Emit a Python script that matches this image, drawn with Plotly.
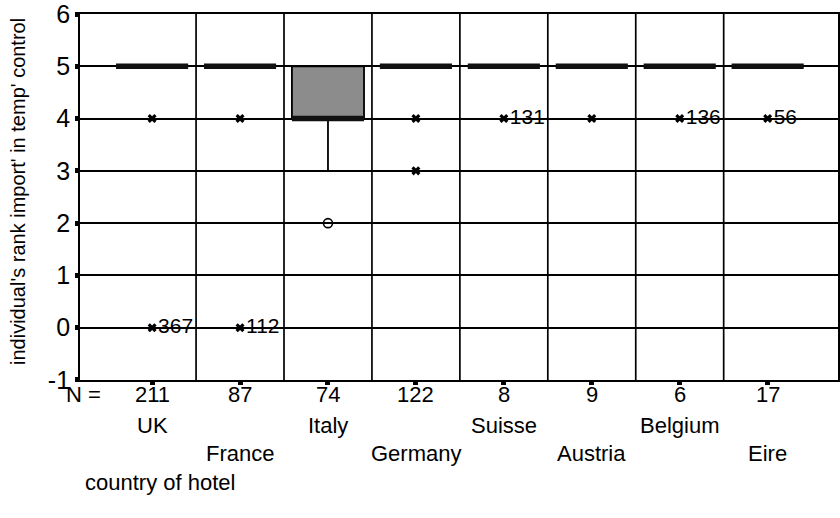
import plotly.graph_objects as go

countries = ["UK", "France", "Italy", "Germany", "Suisse", "Austria", "Belgium", "Eire"]
n_counts = [211, 87, 74, 122, 8, 9, 6, 17]
q1 = [5, 5, 4, 5, 5, 5, 5, 5]
median = [5, 5, 4, 5, 5, 5, 5, 5]
q3 = [5, 5, 5, 5, 5, 5, 5, 5]
lower_fence = [5, 5, 3, 5, 5, 5, 5, 5]
upper_fence = [5, 5, 5, 5, 5, 5, 5, 5]

outlier_country = ["Italy"]
outlier_value = [2]

extreme_country = ["UK", "UK", "France", "France", "Germany", "Germany",
                   "Suisse", "Austria", "Belgium", "Eire"]
extreme_value = [4, 0, 4, 0, 4, 3, 4, 4, 4, 4]
extreme_label = ["", "367", "", "112", "", "", "131", "", "136", "56"]

y_ticks = [-1, 0, 1, 2, 3, 4, 5, 6]
y_tick_labels = ["-1", "0", "1", "2", "3", "4", "5", "6"]

FONT = "Liberation Sans, Arial, sans-serif"
BOX_W = 0.82
idx = list(range(len(countries)))
pos = {c: i for i, c in enumerate(countries)}

fig = go.Figure()

# vertical dividers between categories
div_x, div_y = [], []
for i in idx[:-1]:
    div_x += [i + 0.5, i + 0.5, None]
    div_y += [y_ticks[0], y_ticks[-1], None]
fig.add_trace(go.Scatter(x=div_x, y=div_y, mode="lines",
                         line=dict(color="black", width=1.7),
                         hoverinfo="skip", showlegend=False))

fig.add_trace(go.Box(
    x=idx, q1=q1, median=median, q3=q3,
    lowerfence=lower_fence, upperfence=upper_fence,
    width=BOX_W, whiskerwidth=0.0,
    fillcolor="#8c8c8c", line=dict(color="black", width=1.8),
    boxpoints=False, showlegend=False))

# thick median bars
med_x, med_y = [], []
for i, m in zip(idx, median):
    med_x += [i - BOX_W / 2, i + BOX_W / 2, None]
    med_y += [m, m, None]
fig.add_trace(go.Scatter(x=med_x, y=med_y, mode="lines",
                         line=dict(color="#111111", width=5.5),
                         hoverinfo="skip", showlegend=False))

fig.add_trace(go.Scatter(
    x=[pos[c] for c in outlier_country], y=outlier_value, mode="markers",
    marker=dict(symbol="circle-open", size=9, color="black", line=dict(width=1.6)),
    showlegend=False))

fig.add_trace(go.Scatter(
    x=[pos[c] for c in extreme_country], y=extreme_value, mode="markers+text",
    text=extreme_label, textposition="middle right",
    textfont=dict(family=FONT, size=21, color="black"),
    marker=dict(symbol="x", size=8, color="black"),
    showlegend=False, cliponaxis=False))

annotations = []
annotations.append(dict(xref="paper", yref="paper", x=0, y=0, xshift=3, yshift=-14,
                        text="N =", showarrow=False, xanchor="center", yanchor="middle",
                        font=dict(family=FONT, size=22, color="black")))
for i, (c, n) in enumerate(zip(countries, n_counts)):
    annotations.append(dict(xref="x", yref="paper", x=i, y=0, yshift=-14,
                            text=str(n), showarrow=False, yanchor="middle",
                            font=dict(family=FONT, size=22, color="black")))
    annotations.append(dict(xref="x", yref="paper", x=i, y=0,
                            yshift=-45 if i % 2 == 0 else -73,
                            text=c, showarrow=False, yanchor="middle",
                            font=dict(family=FONT, size=22, color="black")))
annotations.append(dict(xref="paper", yref="paper", x=0, y=0, xshift=3, yshift=-102,
                        text="country of hotel", showarrow=False,
                        xanchor="left", yanchor="middle",
                        font=dict(family=FONT, size=22, color="black")))
annotations.append(dict(xref="paper", yref="paper", x=0, y=0.5, xshift=-62, yshift=5,
                        text="individual's rank import' in temp' control", textangle=-90,
                        showarrow=False, xanchor="center", yanchor="middle",
                        font=dict(family=FONT, size=20, color="black")))

fig.update_layout(
    width=840, height=518,
    margin=dict(l=80, r=2, t=14, b=138, autoexpand=False),
    paper_bgcolor="white", plot_bgcolor="white",
    font=dict(family=FONT, color="black"),
    annotations=annotations,
    xaxis=dict(range=[-0.82, 7.8], tickvals=idx, ticktext=[""] * len(idx),
               ticks="outside", ticklen=3, tickwidth=5, tickcolor="black",
               showgrid=False, zeroline=False, automargin=False,
               showline=True, linecolor="black", linewidth=1.8, mirror=True),
    yaxis=dict(range=[y_ticks[0] - 0.0005, y_ticks[-1] + 0.0005],
               tickvals=y_ticks, ticktext=y_tick_labels,
               ticks="outside", ticklen=3, tickwidth=5, tickcolor="black",
               tickfont=dict(family=FONT, size=25, color="black"),
               ticklabeloverflow="allow",
               showgrid=True, gridcolor="black", gridwidth=1.7, zeroline=False,
               automargin=False,
               showline=True, linecolor="black", linewidth=1.8, mirror=True),
)

fig.write_html("out.html", config={"displayModeBar": False},
               post_script="document.body.style.margin='0px';document.body.style.overflow='hidden';")
